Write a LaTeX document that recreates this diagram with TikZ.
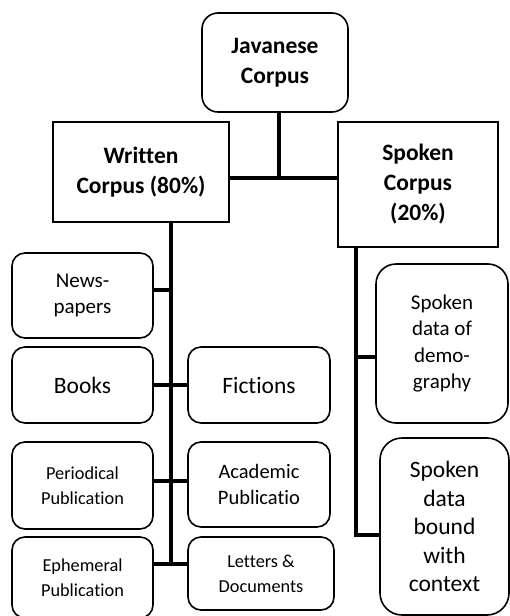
\documentclass[tikz,border=0pt]{standalone}
\usepackage{fontspec}
\setmainfont{Carlito}[RawFeature={-liga;-clig;-dlig;-rlig}]
\begin{document}
\begin{tikzpicture}[x=1pt,y=-1pt,
  box/.style={draw=black,line width=1.6pt,fill=white,inner sep=0pt,align=center,rounded corners=13pt},
  sqbox/.style={box,rounded corners=0pt},
  conn/.style={line width=4.5pt,line cap=butt},
  fbig/.style={font=\fontsize{23.5}{30}\selectfont\bfseries},
  freg/.style={font=\fontsize{23.5}{28.5}\selectfont},
  fmed/.style={font=\fontsize{21}{26.5}\selectfont},
  facad/.style={font=\fontsize{20.5}{26}\selectfont},
  fsmall/.style={font=\fontsize{18.3}{25}\selectfont}]
\useasboundingbox (0,0) rectangle (510,616);
\clip (0,0) rectangle (510,616);
% coordinates for connector joints
\coordinate (j) at (279,178);
\coordinate (ws) at (171,564);
\coordinate (ss) at (356,535);
\coordinate (dm) at (356,357);
\coordinate (nw) at (171,290);
% nodes
\node[box,fbig,minimum width=146pt,minimum height=99pt,rounded corners=16pt] (jav) at (275,62.5) {Javanese\\Corpus};
\node[sqbox,fbig,minimum width=176pt,minimum height=100pt] (wr) at (141,172) {Written\\Corpus (80\%)};
\node[sqbox,fbig,minimum width=160pt,minimum height=125pt] (sp) at (418,184.5) {Spoken\\Corpus\\(20\%)};
\node[box,fmed,minimum width=141pt,minimum height=85pt] (news) at (82.5,295.5) {News-\\papers};
\node[box,freg,minimum width=141pt,minimum height=76pt] (books) at (82.5,385) {Books};
\node[box,freg,minimum width=142pt,minimum height=76pt] (fic) at (259,385) {Fictions};
\node[box,fmed,minimum width=132pt,minimum height=159pt,rounded corners=20pt] (demo) at (442,343.5) {Spoken\\data of\\demo-\\graphy};
\node[box,fsmall,minimum width=141pt,minimum height=87pt] (per) at (82.5,485.5) {Periodical\\Publication};
\node[box,facad,minimum width=142pt,minimum height=85pt] (aca) at (259,484.5) {Academic\\Publicatio};
\node[box,fsmall,minimum width=141pt,minimum height=81pt] (eph) at (82.5,577.5) {Ephemeral\\Publication};
\node[box,fsmall,minimum width=146pt,minimum height=73pt] (let) at (261,573.5) {Letters \&\\Documents};
\node[box,freg,minimum width=129pt,minimum height=177pt,rounded corners=22pt] (bound) at (444.5,526.5) {Spoken\\data\\bound\\with\\context};
% connectors
\draw[conn] (jav.south -| j) -- (j);
\draw[conn] (wr.east |- j) -- (sp.west |- j);
\draw[conn] (wr.south -| ws) -- (ws);
\draw[conn] (news.east |- nw) -- (nw);
\draw[conn] (books.east) -- (fic.west);
\draw[conn] (per.east |- 0,481) -- (aca.west |- 0,481);
\draw[conn] (eph.east |- ws) -- (let.west |- ws);
\draw[conn] (sp.south -| ss) -- (ss) -- (bound.west |- ss);
\draw[conn] (dm) -- (demo.west |- dm);
\end{tikzpicture}
\end{document}
